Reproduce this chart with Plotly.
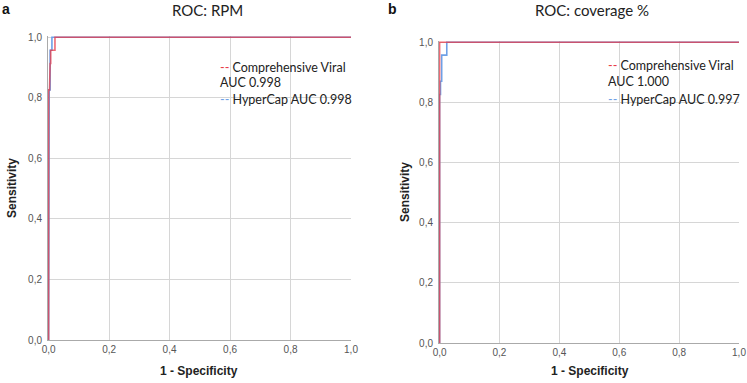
import plotly.graph_objects as go

# ---- data ----
tick_vals = [0.0, 0.2, 0.4, 0.6, 0.8, 1.0]
tick_text = ["0,0", "0,2", "0,4", "0,6", "0,8", "1,0"]

# Panel a: ROC RPM
a_cv_fpr = [0.0, 0.0, 0.003, 0.003, 0.005, 0.005, 0.007, 0.007, 0.021, 0.021, 1.0]
a_cv_tpr = [0.0, 0.826, 0.826, 0.870, 0.870, 0.913, 0.913, 0.957, 0.957, 1.0, 1.0]
a_hc_fpr = [0.0, 0.0, 0.002, 0.002, 0.005, 0.005, 0.011, 0.011, 1.0]
a_hc_tpr = [0.0, 0.783, 0.783, 0.826, 0.826, 0.957, 0.957, 1.0, 1.0]

# Panel b: ROC coverage %
b_cv_fpr = [0.0, 0.0, 1.0]
b_cv_tpr = [0.0, 1.0, 1.0]
b_hc_fpr = [0.0, 0.0, 0.003, 0.003, 0.007, 0.007, 0.024, 0.024, 1.0]
b_hc_tpr = [0.0, 0.826, 0.826, 0.870, 0.870, 0.957, 0.957, 1.0, 1.0]

legend_a = ["Comprehensive Viral", "AUC 0.998", "HyperCap AUC 0.998"]
legend_b = ["Comprehensive Viral", "AUC 1.000", "HyperCap AUC 0.997"]
titles = ["ROC: RPM", "ROC: coverage %"]

W, H = 747, 383
RED = "rgb(232,58,72)"
BLUE = "rgb(110,160,230)"

def px_x(p):
    return p / W

def px_y(p):
    return 1 - p / H

fig = go.Figure()

fig.add_trace(go.Scatter(x=a_hc_fpr, y=a_hc_tpr, mode="lines", line=dict(color=BLUE, width=1.6),
                         xaxis="x", yaxis="y", showlegend=False))
fig.add_trace(go.Scatter(x=a_cv_fpr, y=a_cv_tpr, mode="lines", line=dict(color=RED, width=1.6),
                         opacity=0.75, xaxis="x", yaxis="y", showlegend=False))
fig.add_trace(go.Scatter(x=b_hc_fpr, y=b_hc_tpr, mode="lines", line=dict(color=BLUE, width=1.6),
                         xaxis="x2", yaxis="y2", showlegend=False))
fig.add_trace(go.Scatter(x=b_cv_fpr, y=b_cv_tpr, mode="lines", line=dict(color=RED, width=1.6),
                         opacity=0.75, xaxis="x2", yaxis="y2", showlegend=False))

axis_common = dict(
    tickvals=tick_vals, ticktext=tick_text,
    tickfont=dict(family="Liberation Sans, Arial", size=10, color="#555"),
    showgrid=True, gridcolor="#d6d6d6", gridwidth=1,
    zeroline=False, showline=True, linecolor="#aaaaaa", linewidth=1,
    ticks="", fixedrange=True, automargin=False,
)

fig.update_layout(
    width=W, height=H,
    margin=dict(l=0, r=0, t=0, b=0, autoexpand=False),
    paper_bgcolor="white", plot_bgcolor="white",
    showlegend=False,
    xaxis=dict(domain=[px_x(48), px_x(351)], range=[-0.002, 1.0], anchor="y", **axis_common),
    yaxis=dict(domain=[px_y(340), px_y(36)], range=[0, 1.004], anchor="x", ticklabelstandoff=3, **axis_common),
    xaxis2=dict(domain=[px_x(439), px_x(739)], range=[-0.002, 1.0], anchor="y2", **axis_common),
    yaxis2=dict(domain=[px_y(343), px_y(41)], range=[0, 1.004], anchor="x2", ticklabelstandoff=3, **axis_common),
)

ann = []
title_font = dict(family="Lato, Open Sans", size=15, color="#222")
label_font = dict(family="Liberation Sans, Arial", size=14, color="#111")
axis_title_font = dict(family="Liberation Sans, Arial", size=12, color="#222")
leg_font = dict(family="Lato, Open Sans", size=12.5, color="#222")

def add_text(x, y, text, font, xanchor="center", yanchor="middle", textangle=0):
    ann.append(dict(x=px_x(x), y=px_y(y), xref="paper", yref="paper", text=text, showarrow=False,
                    font=font, xanchor=xanchor, yanchor=yanchor, textangle=textangle))

add_text(0, 9, "<b>a</b>", label_font, xanchor="left")
add_text(386, 9, "<b>b</b>", label_font, xanchor="left")
add_text(207, 10, titles[0], title_font)
add_text(592, 10, titles[1], title_font)

add_text(12, 188, "<b>Sensitivity</b>", axis_title_font, textangle=-90)
add_text(405, 192, "<b>Sensitivity</b>", axis_title_font, textangle=-90)
add_text(199, 371, "<b>1 - Specificity</b>", axis_title_font)
add_text(590, 371, "<b>1 - Specificity</b>", axis_title_font)

def legend(x0, ys, texts):
    add_text(x0, ys[0], f'<span style="color:{RED}">--</span> {texts[0]}', leg_font, xanchor="left")
    add_text(x0, ys[1], texts[1], leg_font, xanchor="left")
    add_text(x0, ys[2], f'<span style="color:{BLUE}">--</span> {texts[2]}', leg_font, xanchor="left")

legend(218, [67, 83, 99], legend_a)
legend(606, [66, 82, 99], legend_b)

fig.update_layout(annotations=ann)
fig.write_html("out.html", config={"displayModeBar": False},
               post_script="document.body.style.margin='0';")
